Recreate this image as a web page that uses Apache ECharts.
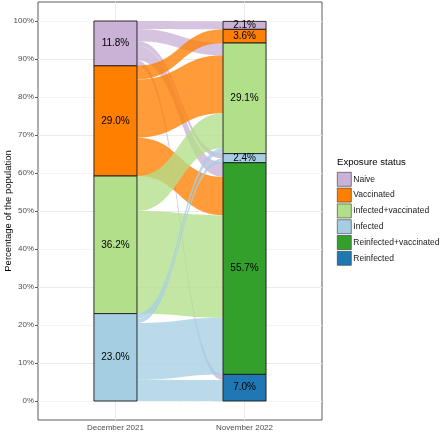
<!DOCTYPE html>
<html>

<head>
    <meta http-equiv="Content-Type" content="text/html; charset=utf-8" />
    <title>Exposure status</title>
    <style type="text/css">
        html,
        body {
            margin: 0;
            padding: 0;
            background: #fff;
        }

        #main {
            width: 440px;
            height: 432px;
        }
    </style>
    <script src="https://cdn.jsdelivr.net/npm/echarts@6.0.0/dist/echarts.min.js"></script>
</head>

<body>
    <div id="main"></div>
    <script type="text/javascript">
        // categories (top to bottom in each column)
        var categories = ['Naive', 'Vaccinated', 'Infected+vaccinated', 'Infected', 'Reinfected+vaccinated', 'Reinfected'];
        var colors = ['#CAB2D6', '#FF7F00', '#B2DF8A', '#A6CEE3', '#33A02C', '#1F78B4'];
        var timepoints = ['December 2021', 'November 2022'];
        var yTicks = [0, 10, 20, 30, 40, 50, 60, 70, 80, 90, 100];

        // stratum sizes (% of population)
        var dec2021 = [11.8, 29.0, 36.2, 23.0];
        var nov2022 = [2.1, 3.6, 29.1, 2.4, 55.7, 7.0];

        // flows December 2021 -> November 2022, one array per starting status
        var fromNaive = [2.1, 0, 3.2, 1.3, 3.7, 1.5];
        var fromVaccinated = [0, 3.6, 15.3, 0, 10.1, 0];
        var fromInfectedVacc = [0, 0, 9.2, 0, 27.0, 0];
        var fromInfected = [0, 0, 1.4, 1.1, 14.9, 5.6];

        var flowRows = [fromNaive, fromVaccinated, fromInfectedVacc, fromInfected];
        var halfW = 1 / 6;
        var FONT = '"Liberation Sans", Arial, sans-serif';

        // stack strata from 0 upward, last category at the bottom
        function stackTops(vals) {
            var tops = [];
            var acc = 0;
            for (var i = vals.length - 1; i >= 0; i--) {
                acc += vals[i];
                tops[i] = acc;
            }
            return tops;
        }
        var leftTops = stackTops(dec2021);
        var rightTops = stackTops(nov2022);

        var strataData = [];
        dec2021.forEach(function (v, i) {
            strataData.push({ value: [1, leftTops[i] - v, leftTops[i], v], itemStyle: { color: colors[i] } });
        });
        nov2022.forEach(function (v, i) {
            strataData.push({ value: [2, rightTops[i] - v, rightTops[i], v], itemStyle: { color: colors[i] } });
        });

        // flow positions: at the left ordered by destination, at the right by origin
        var leftCursor = leftTops.slice();
        var rightCursor = rightTops.slice();
        var flowPos = {};
        flowRows.forEach(function (row, s) {
            row.forEach(function (v, d) {
                if (v <= 0) return;
                flowPos[s + '_' + d] = { t0: leftCursor[s], b0: leftCursor[s] - v };
                leftCursor[s] -= v;
            });
        });
        for (var d = 0; d < nov2022.length; d++) {
            for (var s = 0; s < flowRows.length; s++) {
                var v = flowRows[s][d];
                if (v <= 0) continue;
                flowPos[s + '_' + d].t1 = rightCursor[d];
                flowPos[s + '_' + d].b1 = rightCursor[d] - v;
                rightCursor[d] -= v;
            }
        }
        var flowData = [];
        flowRows.forEach(function (row, s) {
            row.forEach(function (v, d) {
                if (v <= 0) return;
                var p = flowPos[s + '_' + d];
                flowData.push({
                    value: [1 + halfW, p.t0, p.b0, 2 - halfW, p.t1, p.b1],
                    itemStyle: { color: colors[s] }
                });
            });
        });

        function renderFlow(params, api) {
            var a = api.coord([api.value(0), api.value(1)]);
            var d = api.coord([api.value(0), api.value(2)]);
            var b = api.coord([api.value(3), api.value(4)]);
            var c = api.coord([api.value(3), api.value(5)]);
            var mx = (a[0] + b[0]) / 2;
            var path = 'M' + a[0] + ' ' + a[1] +
                ' C' + mx + ' ' + a[1] + ' ' + mx + ' ' + b[1] + ' ' + b[0] + ' ' + b[1] +
                ' L' + c[0] + ' ' + c[1] +
                ' C' + mx + ' ' + c[1] + ' ' + mx + ' ' + d[1] + ' ' + d[0] + ' ' + d[1] + ' Z';
            return {
                type: 'path',
                shape: { pathData: path },
                style: { fill: api.visual('color'), opacity: 0.78 }
            };
        }

        function renderStratum(params, api) {
            var p1 = api.coord([api.value(0) - halfW, api.value(2)]);
            var p2 = api.coord([api.value(0) + halfW, api.value(1)]);
            return {
                type: 'group',
                children: [{
                    type: 'rect',
                    shape: { x: p1[0], y: p1[1], width: p2[0] - p1[0], height: p2[1] - p1[1] },
                    style: { fill: api.visual('color'), stroke: '#1a1a1a', lineWidth: 0.9 }
                }, {
                    type: 'text',
                    style: {
                        text: api.value(3).toFixed(1) + '%',
                        x: (p1[0] + p2[0]) / 2,
                        y: (p1[1] + p2[1]) / 2,
                        align: 'center',
                        verticalAlign: 'middle',
                        fontSize: 10,
                        fontFamily: FONT,
                        fill: '#000'
                    }
                }]
            };
        }

        var series = [{
            type: 'custom',
            name: 'flows',
            renderItem: renderFlow,
            data: flowData,
            z: 2,
            silent: true,
            markLine: {
                silent: true,
                z: 1,
                symbol: 'none',
                label: { show: false },
                lineStyle: { color: '#EBEBEB', type: 'solid', width: 1 },
                data: [{ xAxis: 1 }, { xAxis: 2 }]
            }
        }, {
            type: 'custom',
            name: 'strata',
            renderItem: renderStratum,
            data: strataData,
            z: 4,
            silent: true
        }];
        // empty series so the legend gets one key per status
        categories.forEach(function (c, i) {
            series.push({ type: 'bar', name: c, data: [], itemStyle: { color: colors[i] } });
        });

        var chart = echarts.init(document.getElementById('main'), null, { renderer: 'canvas' });
        var option = {
            animation: false,
            textStyle: { fontFamily: FONT },
            grid: {
                left: 38, right: 118, top: 2, bottom: 12,
                outerBoundsMode: 'none',
                containLabel: false,
                show: true, borderColor: '#333', borderWidth: 0.8, backgroundColor: 'transparent'
            },
            graphic: [{
                type: 'text',
                left: 337,
                top: 157,
                style: { text: 'Exposure status', fontSize: 9.6, fontFamily: FONT, fill: '#000' }
            }],
            legend: {
                data: categories,
                orient: 'vertical',
                left: 337,
                top: 172,
                padding: 0,
                itemWidth: 14,
                itemHeight: 14,
                itemGap: 1.2,
                icon: 'rect',
                selectedMode: false,
                itemStyle: { borderColor: '#333', borderWidth: 0.6 },
                textStyle: { fontSize: 8.5, color: '#1a1a1a', fontFamily: FONT, padding: [0, 0, 0, -3] }
            },
            xAxis: {
                type: 'value',
                min: 0.4,
                max: 2.6,
                axisLine: { show: false },
                splitLine: { show: false },
                axisTick: { show: true, customValues: [1, 2], length: 3, lineStyle: { color: '#333', width: 0.8 } },
                axisLabel: {
                    customValues: [1, 2],
                    margin: 4,
                    fontSize: 8,
                    color: '#4D4D4D',
                    formatter: function (v) { return timepoints[Math.round(v) - 1]; }
                }
            },
            yAxis: {
                type: 'value',
                min: -5,
                max: 105,
                interval: 5,
                name: 'Percentage of the population',
                nameLocation: 'middle',
                nameGap: 25,
                nameMoveOverlap: false,
                nameRotate: 90,
                nameTextStyle: { fontSize: 9.5, color: '#000', fontFamily: FONT },
                axisLine: { show: false },
                axisTick: { show: true, customValues: yTicks, length: 3, lineStyle: { color: '#333', width: 0.8 } },
                axisLabel: {
                    customValues: yTicks,
                    margin: 4,
                    fontSize: 8,
                    color: '#4D4D4D',
                    formatter: function (v) { return v + '%'; }
                },
                splitLine: { show: true, lineStyle: { color: ['#F4F4F4', '#EBEBEB'], width: 1 } }
            },
            series: series
        };
        chart.setOption(option);
    </script>
</body>

</html>
